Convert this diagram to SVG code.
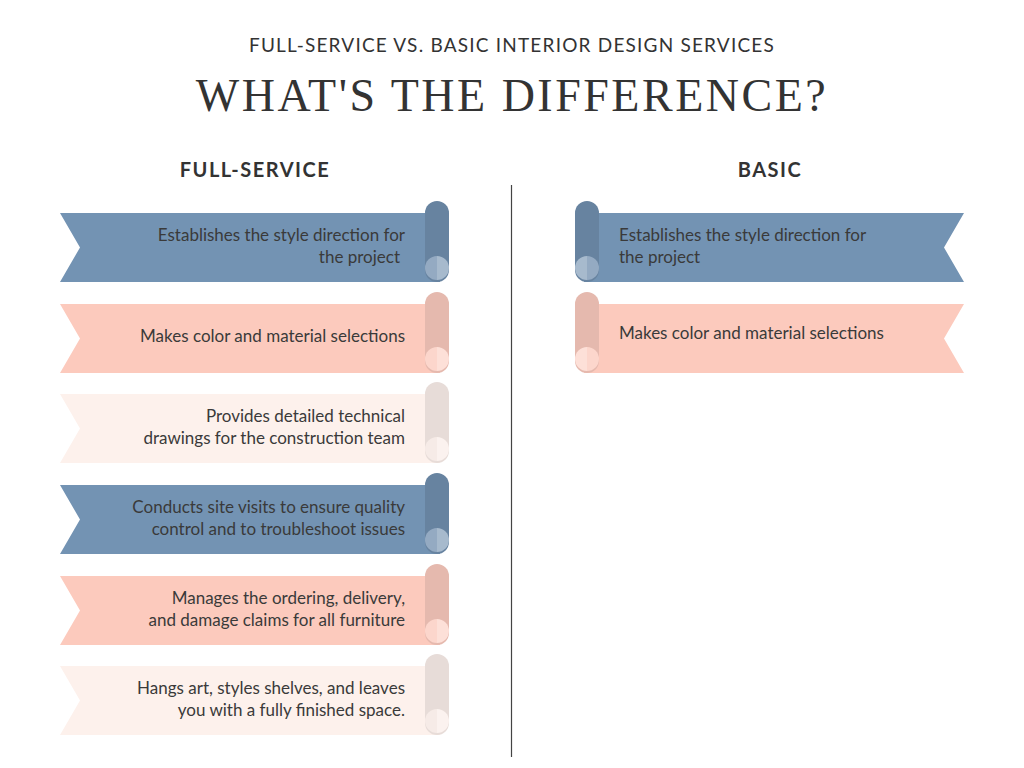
<svg xmlns="http://www.w3.org/2000/svg" width="1024" height="768" viewBox="0 0 1024 768">
<style>
.t{font-family:Lato,"Open Sans",sans-serif;font-size:17px;fill:#3a3a3a}
.h{font-family:Lato,sans-serif;font-size:20px;font-weight:bold;fill:#333;letter-spacing:1.5px}
.b{fill:#7393b3}.br{fill:#6783a0}.bc1{fill:#94aac2}.bc2{fill:#a7bacd}
.p{fill:#fccabd}.pr{fill:#e5b9ae}.pc1{fill:#fcd6cc}.pc2{fill:#fde0d8}
.l{fill:#fdf1ec}.lr{fill:#e7dcd8}.lc1{fill:#f6ebe7}.lc2{fill:#fbf2ef}
</style>
<rect width="1024" height="768" fill="#fff"/>
<text x="512" y="52" text-anchor="middle" font-family="Lato,sans-serif" font-size="19" fill="#333" letter-spacing="1.2">FULL-SERVICE VS. BASIC INTERIOR DESIGN SERVICES</text>
<text x="512" y="111" text-anchor="middle" font-family="'Liberation Serif',serif" font-size="46" fill="#333" letter-spacing="2.5" style="font-weight:normal">WHAT'S THE DIFFERENCE?</text>
<text class="h" x="255" y="177" text-anchor="middle">FULL-SERVICE</text>
<text class="h" x="770" y="177" text-anchor="middle">BASIC</text>
<g id="connectors"><line x1="511.5" y1="185" x2="511.5" y2="757" stroke="#444" stroke-width="1.2"/></g>
<defs>
<g id="Lb"><path d="M60 12H440V81H60L80 46.5Z" class="b"/><rect x="425" y="0" width="24" height="81" rx="12" class="br"/><path d="M437 55A12 12 0 0 0 437 79Z" class="bc1"/><path d="M437 55A12 12 0 0 1 437 79Z" class="bc2"/></g>
<g id="Lp"><path d="M60 12H440V81H60L80 46.5Z" class="p"/><rect x="425" y="0" width="24" height="81" rx="12" class="pr"/><path d="M437 55A12 12 0 0 0 437 79Z" class="pc1"/><path d="M437 55A12 12 0 0 1 437 79Z" class="pc2"/></g>
<g id="Ll"><path d="M60 12H440V81H60L80 46.5Z" class="l"/><rect x="425" y="0" width="24" height="81" rx="12" class="lr"/><path d="M437 55A12 12 0 0 0 437 79Z" class="lc1"/><path d="M437 55A12 12 0 0 1 437 79Z" class="lc2"/></g>
</defs>
<g id="f1" transform="translate(0,201)"><use href="#Lb"/></g>
<text class="t" x="405" y="241" text-anchor="end">Establishes the style direction for</text><text class="t" x="400" y="263" text-anchor="end">the project</text>
<g id="f2" transform="translate(0,292)"><use href="#Lp"/></g>
<text class="t" x="405" y="342" text-anchor="end">Makes color and material selections</text>
<g id="f3" transform="translate(0,382)"><use href="#Ll"/></g>
<text class="t" x="405" y="422" text-anchor="end">Provides detailed technical</text><text class="t" x="405" y="444" text-anchor="end">drawings for the construction team</text>
<g id="f4" transform="translate(0,473)"><use href="#Lb"/></g>
<text class="t" x="405" y="513" text-anchor="end">Conducts site visits to ensure quality</text><text class="t" x="405" y="535" text-anchor="end">control and to troubleshoot issues</text>
<g id="f5" transform="translate(0,564)"><use href="#Lp"/></g>
<text class="t" x="405" y="604" text-anchor="end">Manages the ordering, delivery,</text><text class="t" x="405" y="626" text-anchor="end">and damage claims for all furniture</text>
<g id="f6" transform="translate(0,654)"><use href="#Ll"/></g>
<text class="t" x="405" y="694" text-anchor="end">Hangs art, styles shelves, and leaves</text><text class="t" x="405" y="716" text-anchor="end">you with a fully finished space.</text>
<g id="b1" transform="translate(1024,201) scale(-1,1)"><use href="#Lb"/></g>
<text class="t" x="619" y="241">Establishes the style direction for</text><text class="t" x="619" y="263">the project</text>
<g id="b2" transform="translate(1024,292) scale(-1,1)"><use href="#Lp"/></g>
<text class="t" x="619" y="339">Makes color and material selections</text>
</svg>
